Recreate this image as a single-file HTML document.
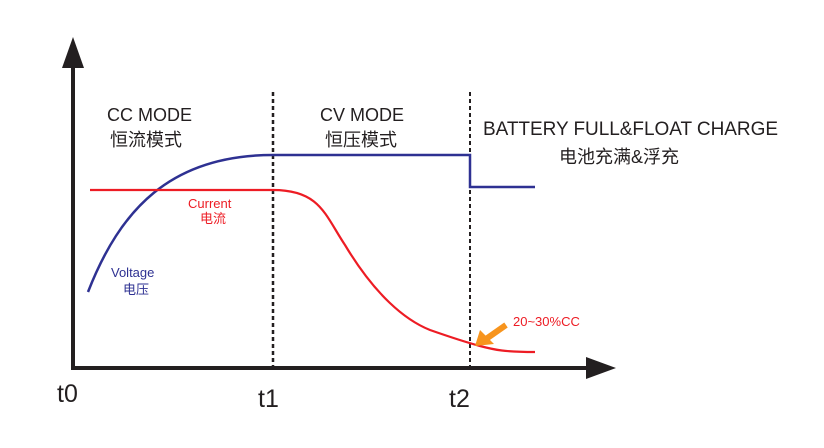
<!DOCTYPE html>
<html><head><meta charset="utf-8"><style>body{margin:0;background:#fff}svg{display:block}</style></head>
<body>
<svg width="824" height="448" viewBox="0 0 824 448" xmlns="http://www.w3.org/2000/svg" font-family="'Liberation Sans','Noto Sans CJK SC',sans-serif">
<rect width="824" height="448" fill="#fff"/>
<line x1="73" y1="368" x2="73" y2="60" stroke="#231f20" stroke-width="4"/>
<polygon points="73,37 62,68 84,68" fill="#231f20"/>
<line x1="71" y1="368" x2="590" y2="368" stroke="#231f20" stroke-width="4"/>
<polygon points="616,368 586,357 586,379" fill="#231f20"/>
<line x1="273" y1="92" x2="273" y2="368" stroke="#231f20" stroke-width="2.5" stroke-dasharray="4,3"/>
<line x1="470" y1="92" x2="470" y2="368" stroke="#231f20" stroke-width="2" stroke-dasharray="4,3"/>
<path d="M88,292 C120,210 170,155 273,155 L470,155 L470,187 L535,187" fill="none" stroke="#2e3192" stroke-width="2.5"/>
<path d="M90,190 L273,190 C320,190 325,215 345,245 C375,295 405,320 430,330 C450,337 465,342 480,346 C495,350 505,352 535,352" fill="none" stroke="#ed1c24" stroke-width="2.2"/>
<line x1="506" y1="325" x2="486" y2="339" stroke="#f7941d" stroke-width="6"/>
<polygon points="475,346 480,330 494,344" fill="#f7941d"/>
<g fill="#231f20" font-size="18">
<text x="107" y="121">CC MODE</text>
<text x="110" y="146">恒流模式</text>
<text x="320" y="121">CV MODE</text>
<text x="325" y="146">恒压模式</text>
<text x="483" y="135" font-size="19" textLength="295">BATTERY FULL&amp;FLOAT CHARGE</text>
<text x="559" y="163" font-size="18">电池充满&amp;浮充</text>
</g>
<g font-size="25" fill="#231f20">
<text x="57" y="402">t0</text>
<text x="258" y="407">t1</text>
<text x="449" y="407">t2</text>
</g>
<g fill="#ed1c24" font-size="13">
<text x="188" y="208">Current</text>
<text x="200" y="223">电流</text>
<text x="513" y="326">20~30%CC</text>
</g>
<g fill="#2e3192" font-size="13">
<text x="111" y="277">Voltage</text>
<text x="123" y="294">电压</text>
</g>
</svg>
</body></html>
